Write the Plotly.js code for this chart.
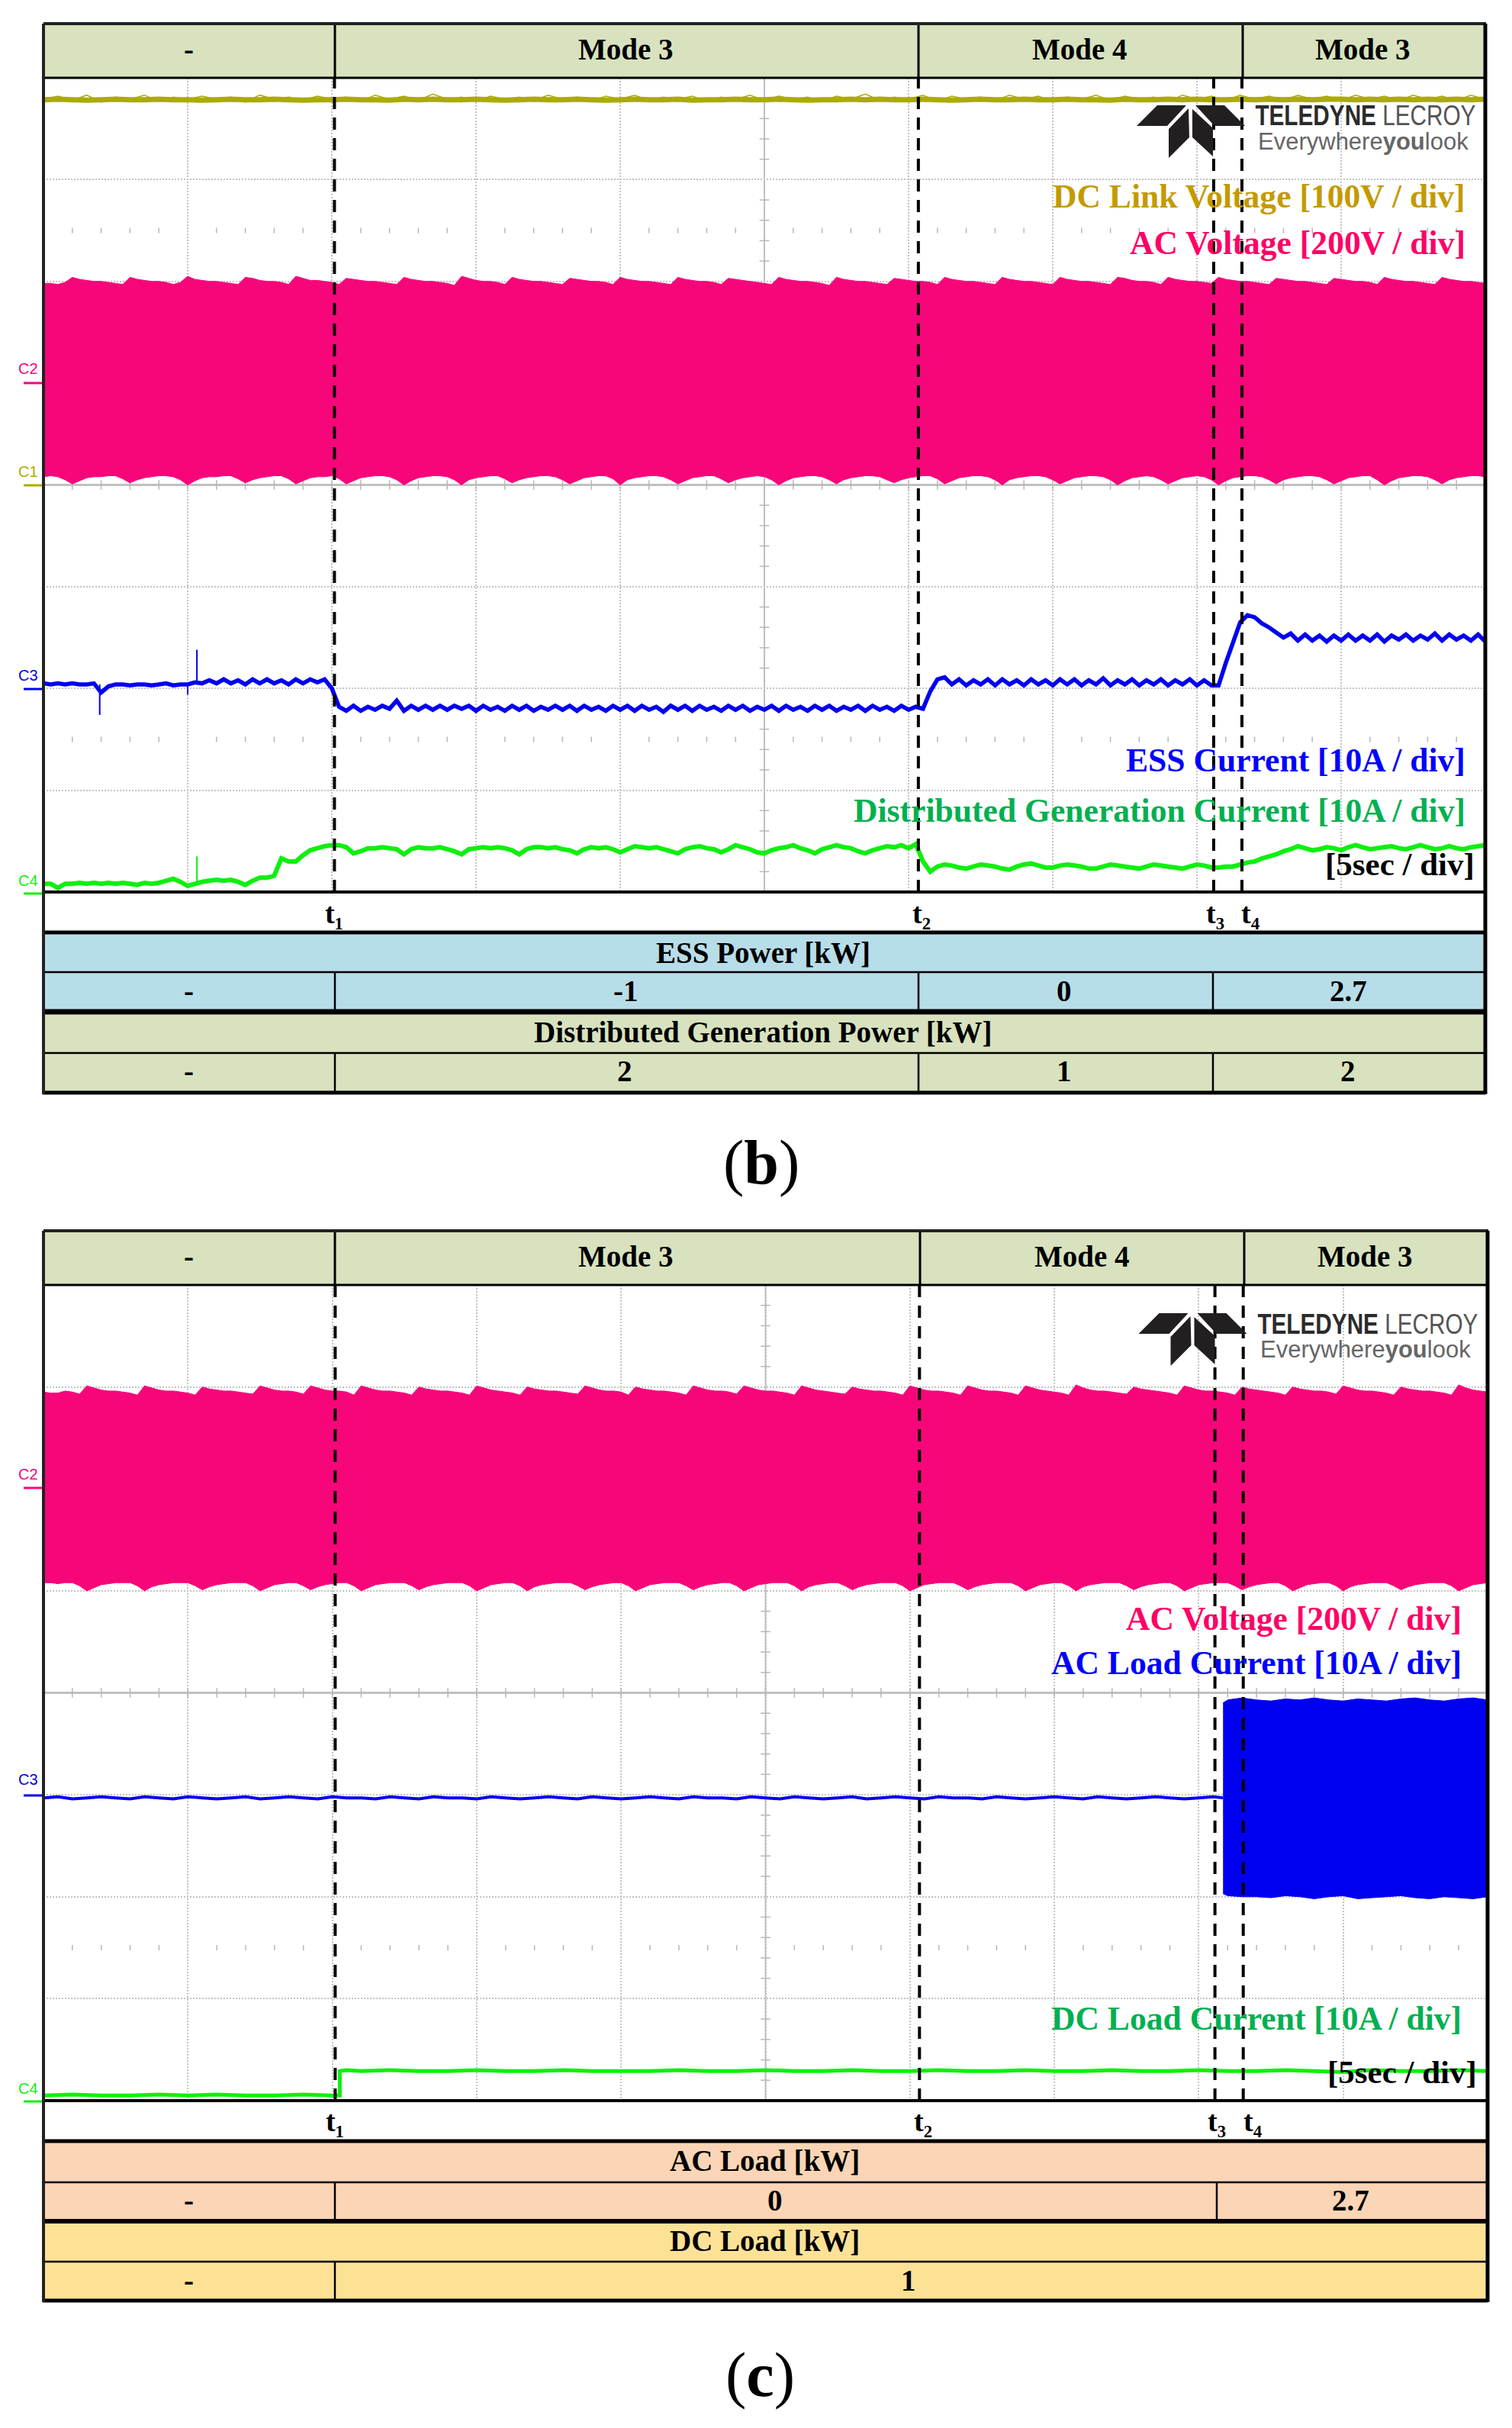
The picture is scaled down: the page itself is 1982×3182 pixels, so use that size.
<!DOCTYPE html>
<html>
<head>
<meta charset="utf-8">
<script src="https://cdn.plot.ly/plotly-3.0.1.min.js"></script>
<style>html,body{margin:0;padding:0;background:#fff}#chart{width:1982px;height:3182px}</style>
</head>
<body>
<div id="chart"></div>
<script>
// ---------- Data. Time in seconds (5 s/div), amplitude in screen divisions ----------
const envelopeTime = [0,0.5,1,1.5,2,2.5,3,3.5,4,4.5,5,5.5,6,6.5,7,7.5,8,8.5,9,9.5,10,10.5,11,11.5,12,12.5,13,13.5,14,14.5,15,15.5,16,16.5,17,17.5,18,18.5,19,19.5,20,20.5,21,21.5,22,22.5,23,23.5,24,24.5,25,25.5,26,26.5,27,27.5,28,28.5,29,29.5,30,30.5,31,31.5,32,32.5,33,33.5,34,34.5,35,35.5,36,36.5,37,37.5,38,38.5,39,39.5,40,40.5,41,41.5,42,42.5,43,43.5,44,44.5,45,45.5,46,46.5,47,47.5,48,48.5,49,49.5,50];
const sampleTime = [0,0.25,0.5,0.75,1,1.25,1.5,1.75,2,2.25,2.5,2.75,3,3.25,3.5,3.75,4,4.25,4.5,4.75,5,5.25,5.5,5.75,6,6.25,6.5,6.75,7,7.25,7.5,7.75,8,8.25,8.5,8.75,9,9.25,9.5,9.75,10,10.25,10.5,10.75,11,11.25,11.5,11.75,12,12.25,12.5,12.75,13,13.25,13.5,13.75,14,14.25,14.5,14.75,15,15.25,15.5,15.75,16,16.25,16.5,16.75,17,17.25,17.5,17.75,18,18.25,18.5,18.75,19,19.25,19.5,19.75,20,20.25,20.5,20.75,21,21.25,21.5,21.75,22,22.25,22.5,22.75,23,23.25,23.5,23.75,24,24.25,24.5,24.75,25,25.25,25.5,25.75,26,26.25,26.5,26.75,27,27.25,27.5,27.75,28,28.25,28.5,28.75,29,29.25,29.5,29.75,30,30.25,30.5,30.75,31,31.25,31.5,31.75,32,32.25,32.5,32.75,33,33.25,33.5,33.75,34,34.25,34.5,34.75,35,35.25,35.5,35.75,36,36.25,36.5,36.75,37,37.25,37.5,37.75,38,38.25,38.5,38.75,39,39.25,39.5,39.75,40,40.25,40.5,40.75,41,41.25,41.5,41.75,42,42.25,42.5,42.75,43,43.25,43.5,43.75,44,44.25,44.5,44.75,45,45.25,45.5,45.75,46,46.25,46.5,46.75,47,47.25,47.5,47.75,48,48.25,48.5,48.75,49,49.25,49.5,49.75,50];

const dcLinkVoltage = [7.785,7.79,7.785,7.78,7.785,7.79,7.785,7.785,7.79,7.785,7.785,7.78,7.785,7.79,7.785,7.785,7.79,7.785,7.78,7.785,7.785,7.79,7.785,7.785,7.78,7.79,7.785,7.79,7.785,7.785,7.79,7.785,7.78,7.785,7.79,7.785,7.785,7.79,7.785,7.78,7.785,7.79,7.785,7.785,7.79,7.78,7.785,7.785,7.79,7.785,7.785,7.79,7.785,7.78,7.785,7.785,7.79,7.785,7.79,7.785,7.785,7.79,7.785,7.78,7.785,7.79,7.785,7.785,7.79,7.785,7.785,7.79,7.785,7.785,7.78,7.79,7.785,7.785,7.79,7.785,7.79,7.785,7.785,7.79,7.785,7.79,7.785,7.79,7.785,7.79,7.79,7.785,7.79,7.785,7.79,7.785,7.79,7.785,7.79,7.785,7.79];
const dcLinkFuzz = [7.79,7.82,7.78,7.83,7.76,7.81,7.79,7.83,7.77,7.81,7.79,7.82,7.79,7.81,7.76,7.83,7.79,7.81,7.78,7.82,7.79,7.81,7.77,7.83,7.79,7.82,7.78,7.84,7.79,7.81,7.77,7.82,7.79,7.81,7.78,7.83,7.79,7.81,7.77,7.82,7.79,7.83,7.78,7.81,7.79,7.82,7.77,7.81,7.79,7.83,7.78,7.82,7.79,7.81,7.77,7.82,7.79,7.84,7.78,7.81,7.79,7.83,7.77,7.82,7.79,7.81,7.78,7.83,7.79,7.82,7.77,7.81,7.79,7.83,7.78,7.82,7.79,7.81,7.77,7.83,7.79,7.82,7.78,7.83,7.79,7.82,7.78,7.83,7.79,7.82,7.78,7.83,7.79,7.82,7.78,7.83,7.79,7.82,7.78,7.83,7.79];

const acVoltageUpperB = [5.98,5.98,5.97,5.99,6.04,6.02,6.01,6.00,6.00,5.99,5.98,5.97,6.04,6.02,6.01,6.00,6.00,5.99,5.97,5.99,
 6.05,6.02,6.01,6.00,6.00,5.99,5.98,5.97,6.04,6.03,6.01,6.00,6.00,5.99,5.97,6.05,6.03,6.01,6.01,6.00,
 5.99,5.97,6.03,6.02,6.01,6.00,6.00,5.99,5.98,5.97,6.04,6.02,6.01,6.00,6.00,5.99,5.98,5.96,6.05,6.03,
 6.01,6.00,6.00,5.99,5.97,6.04,6.02,6.01,6.00,6.00,5.99,5.98,5.97,6.03,6.02,6.01,6.00,6.00,5.99,5.97,
 6.04,6.02,6.01,6.00,6.00,5.99,5.98,5.97,6.04,6.02,6.01,6.00,6.00,5.99,5.97,6.03,6.02,6.01,6.00,5.99,
 5.98,5.97,6.04,6.02,6.01,6.00,6.00,5.99,5.98,5.96,6.04,6.02,6.01,6.00,6.00,5.99,5.98,5.97,6.03,6.02,
 6.01,6.00,6.00,5.99,5.97,6.04,6.02,6.01,6.00,6.00,5.99,5.98,5.97,6.04,6.02,6.01,6.00,6.00,5.99,5.98,
 5.97,6.04,6.02,6.01,6.00,6.00,5.99,5.98,5.97,6.04,6.03,6.01,6.00,6.00,5.99,5.97,6.04,6.02,6.01,6.00,
 6.00,5.99,5.98,6.04,6.02,6.01,6.00,6.00,5.99,5.98,5.97,6.03,6.02,6.01,6.00,6.00,5.99,5.98,5.97,6.03,
 6.02,6.01,6.00,6.00,5.99,5.97,6.04,6.02,6.01,6.00,6.00,5.99,5.98,5.97,6.04,6.02,6.01,6.00,6.00,5.99,5.98];
const acVoltageLowerB = [4.08,4.09,4.08,4.05,4.01,4.04,4.07,4.08,4.08,4.09,4.09,4.06,4.02,4.05,4.07,4.08,4.09,4.09,4.08,4.05,
 4.00,4.04,4.07,4.08,4.08,4.09,4.09,4.06,4.02,4.05,4.07,4.08,4.09,4.09,4.06,4.01,4.04,4.07,4.08,4.08,
 4.09,4.06,4.01,4.04,4.07,4.08,4.09,4.09,4.08,4.05,4.00,4.04,4.07,4.08,4.09,4.09,4.08,4.05,4.00,4.05,
 4.07,4.08,4.09,4.09,4.06,4.02,4.05,4.07,4.08,4.09,4.09,4.08,4.05,4.01,4.04,4.07,4.08,4.09,4.09,4.06,
 4.00,4.05,4.07,4.08,4.09,4.09,4.08,4.05,4.01,4.04,4.07,4.08,4.09,4.09,4.06,4.02,4.05,4.07,4.08,4.09,
 4.08,4.05,4.00,4.04,4.07,4.08,4.09,4.09,4.08,4.05,4.01,4.05,4.07,4.08,4.09,4.09,4.08,4.05,4.02,4.05,
 4.07,4.08,4.09,4.09,4.06,4.01,4.04,4.07,4.08,4.09,4.09,4.08,4.05,4.00,4.05,4.07,4.08,4.09,4.09,4.08,
 4.05,4.01,4.04,4.07,4.08,4.09,4.09,4.08,4.05,4.00,4.04,4.07,4.08,4.09,4.08,4.05,4.01,4.04,4.07,4.08,
 4.09,4.08,4.05,4.00,4.04,4.07,4.08,4.09,4.09,4.08,4.05,4.01,4.05,4.07,4.08,4.09,4.09,4.08,4.05,4.01,
 4.04,4.07,4.08,4.09,4.09,4.05,4.00,4.04,4.07,4.08,4.09,4.09,4.08,4.05,4.01,4.05,4.07,4.08,4.09,4.09,4.08];

const essCurrent = [2.05,2.04,2.05,2.04,2.05,2.04,2.04,2.05,1.96,2.02,2.04,2.04,2.03,2.04,2.04,2.03,2.04,2.05,2.03,2.04,
 2.04,2.06,2.05,2.08,2.05,2.09,2.05,2.08,2.04,2.09,2.05,2.09,2.05,2.08,2.04,2.09,2.05,2.09,2.06,2.09,
 2.00,1.82,1.78,1.83,1.78,1.82,1.79,1.83,1.80,1.88,1.78,1.83,1.79,1.83,1.79,1.83,1.79,1.83,1.80,1.83,
 1.78,1.83,1.79,1.82,1.78,1.83,1.79,1.83,1.78,1.82,1.79,1.83,1.79,1.83,1.78,1.83,1.79,1.82,1.78,1.83,
 1.79,1.83,1.78,1.83,1.79,1.82,1.77,1.83,1.79,1.83,1.78,1.83,1.79,1.82,1.78,1.83,1.79,1.83,1.78,1.82,
 1.79,1.83,1.78,1.83,1.79,1.82,1.78,1.83,1.79,1.83,1.78,1.82,1.79,1.83,1.78,1.83,1.79,1.82,1.78,1.83,
 1.79,1.82,1.80,1.97,2.09,2.11,2.04,2.09,2.03,2.08,2.04,2.09,2.03,2.09,2.04,2.08,2.03,2.09,2.04,2.08,
 2.03,2.09,2.04,2.09,2.03,2.08,2.04,2.10,2.03,2.08,2.04,2.09,2.03,2.08,2.04,2.09,2.03,2.08,2.04,2.09,
 2.03,2.08,2.03,2.03,2.25,2.45,2.65,2.72,2.70,2.64,2.60,2.55,2.50,2.54,2.47,2.53,2.47,2.52,2.46,2.52,
 2.47,2.53,2.47,2.52,2.47,2.53,2.46,2.52,2.48,2.53,2.47,2.52,2.48,2.54,2.47,2.53,2.48,2.52,2.47,2.53,2.46];
const essSpikeTime = [1.95,1.95,null,5.0,5.0,null,5.32,5.32];
const essSpikeValue = [2.04,1.74,null,2.03,1.94,null,2.04,2.38];

const dgCurrent = [0.08,0.08,0.04,0.08,0.08,0.09,0.08,0.09,0.08,0.09,0.08,0.09,0.08,0.07,0.09,0.08,0.09,0.11,0.13,0.10,
 0.06,0.08,0.10,0.11,0.12,0.11,0.12,0.10,0.07,0.11,0.14,0.14,0.16,0.33,0.30,0.30,0.36,0.41,0.43,0.45,
 0.46,0.46,0.44,0.38,0.40,0.43,0.43,0.44,0.43,0.42,0.37,0.42,0.44,0.43,0.43,0.44,0.42,0.40,0.37,0.42,
 0.43,0.44,0.43,0.44,0.43,0.41,0.37,0.42,0.44,0.44,0.43,0.44,0.42,0.41,0.38,0.42,0.44,0.43,0.44,0.42,
 0.39,0.42,0.45,0.44,0.43,0.44,0.42,0.40,0.38,0.42,0.44,0.45,0.43,0.42,0.39,0.42,0.46,0.44,0.42,0.39,
 0.38,0.41,0.43,0.44,0.46,0.43,0.41,0.38,0.42,0.44,0.46,0.44,0.43,0.40,0.38,0.41,0.43,0.45,0.44,0.46,
 0.43,0.47,0.30,0.20,0.25,0.27,0.26,0.24,0.23,0.25,0.27,0.26,0.25,0.23,0.22,0.25,0.27,0.28,0.26,0.24,
 0.24,0.26,0.27,0.26,0.25,0.23,0.23,0.25,0.27,0.26,0.25,0.24,0.23,0.25,0.27,0.26,0.25,0.24,0.23,0.25,
 0.27,0.26,0.24,0.24,0.25,0.25,0.27,0.29,0.30,0.33,0.35,0.37,0.40,0.42,0.45,0.43,0.41,0.42,0.44,0.43,
 0.41,0.44,0.46,0.44,0.42,0.43,0.44,0.45,0.43,0.42,0.44,0.46,0.44,0.42,0.43,0.45,0.43,0.42,0.44,0.45,0.46];
const dgSpikeTime = [5.32,5.32];
const dgSpikeValue = [0.09,0.35];

const acVoltageUpperC = [6.95,6.94,6.94,6.96,6.95,6.93,7.01,6.99,6.97,6.96,6.96,6.95,6.94,6.92,7.01,6.99,6.97,6.96,6.96,6.95,
 6.94,6.92,7.00,6.98,6.97,6.96,6.96,6.95,6.94,6.93,7.01,6.99,6.97,6.96,6.96,6.95,6.93,7.01,6.99,6.97,
 6.96,6.96,6.95,6.92,7.01,6.99,6.97,6.96,6.96,6.95,6.94,6.92,7.00,6.98,6.97,6.96,6.96,6.95,6.94,6.92,
 7.01,6.99,6.97,6.96,6.95,6.94,6.92,7.00,6.98,6.97,6.96,6.96,6.95,6.94,6.93,7.01,6.99,6.97,6.96,6.96,
 6.95,6.92,7.00,6.98,6.97,6.96,6.96,6.95,6.94,6.92,7.01,6.99,6.97,6.96,6.96,6.95,6.93,7.01,6.99,6.97,
 6.96,6.96,6.95,6.94,6.92,7.01,6.99,6.97,6.96,6.95,6.94,6.93,7.00,6.98,6.97,6.96,6.96,6.95,6.94,6.92,
 7.01,6.99,6.97,6.96,6.96,6.95,6.94,6.92,7.01,6.99,6.97,6.96,6.96,6.95,6.94,6.92,7.01,6.99,6.97,6.96,
 6.95,6.94,6.92,7.02,6.99,6.97,6.96,6.96,6.95,6.94,6.93,7.00,6.98,6.97,6.96,6.95,6.94,6.92,7.01,6.99,
 6.97,6.96,6.96,6.95,6.94,6.92,7.00,6.98,6.97,6.96,6.95,6.94,6.92,7.00,6.98,6.97,6.96,6.96,6.95,6.93,
 7.01,6.99,6.97,6.96,6.96,6.95,6.94,6.92,7.00,6.98,6.97,6.96,6.96,6.95,6.94,6.92,7.02,6.99,6.97,6.96,6.95];
const acVoltageLowerC = [5.08,5.08,5.07,5.08,5.08,5.05,5.00,5.03,5.06,5.07,5.08,5.08,5.08,5.05,5.00,5.04,5.06,5.07,5.08,5.08,
 5.08,5.05,5.01,5.04,5.06,5.07,5.08,5.08,5.08,5.05,5.00,5.03,5.06,5.07,5.08,5.08,5.05,5.01,5.04,5.06,
 5.07,5.08,5.08,5.05,5.00,5.03,5.06,5.07,5.08,5.08,5.08,5.05,5.01,5.04,5.06,5.07,5.08,5.08,5.08,5.05,
 5.00,5.03,5.06,5.07,5.08,5.08,5.05,5.00,5.04,5.06,5.07,5.08,5.08,5.08,5.05,5.01,5.04,5.06,5.07,5.08,
 5.08,5.05,5.00,5.03,5.06,5.07,5.08,5.08,5.08,5.05,5.01,5.04,5.06,5.07,5.08,5.08,5.05,5.00,5.03,5.06,
 5.07,5.08,5.08,5.08,5.05,5.00,5.04,5.06,5.07,5.08,5.08,5.05,5.01,5.04,5.06,5.07,5.08,5.08,5.08,5.05,
 5.00,5.03,5.06,5.07,5.08,5.08,5.08,5.05,5.01,5.04,5.06,5.07,5.08,5.08,5.08,5.05,5.00,5.03,5.06,5.07,
 5.08,5.08,5.05,5.00,5.04,5.06,5.07,5.08,5.08,5.08,5.05,5.01,5.04,5.06,5.07,5.08,5.08,5.05,5.00,5.03,
 5.06,5.07,5.08,5.08,5.08,5.05,5.01,5.04,5.06,5.07,5.08,5.08,5.05,5.00,5.03,5.06,5.07,5.08,5.08,5.05,
 5.00,5.04,5.06,5.07,5.08,5.08,5.08,5.05,5.01,5.04,5.06,5.07,5.08,5.08,5.08,5.05,5.00,5.03,5.06,5.07,5.08];

const acLoadIdleTime = [0,0.5,1,1.5,2,2.5,3,3.5,4,4.5,5,5.5,6,6.5,7,7.5,8,8.5,9,9.5,10,10.5,11,11.5,12,12.5,13,13.5,14,14.5,15,15.5,16,16.5,17,17.5,18,18.5,19,19.5,20,20.5,21,21.5,22,22.5,23,23.5,24,24.5,25,25.5,26,26.5,27,27.5,28,28.5,29,29.5,30,30.5,31,31.5,32,32.5,33,33.5,34,34.5,35,35.5,36,36.5,37,37.5,38,38.5,39,39.5,40,40.5,40.84];
const acLoadIdle = [2.97,2.98,2.96,2.97,2.98,2.97,2.96,2.98,2.97,2.96,2.98,2.97,2.96,2.97,2.98,2.96,2.97,2.98,2.97,2.96,2.98,2.97,2.97,2.96,2.98,2.97,2.96,2.98,2.97,2.97,2.96,2.98,2.97,2.96,2.97,2.98,2.97,2.96,2.98,2.97,2.96,2.97,2.98,2.97,2.96,2.98,2.97,2.97,2.96,2.98,2.97,2.96,2.98,2.97,2.96,2.97,2.98,2.96,2.97,2.98,2.97,2.96,2.98,2.97,2.97,2.96,2.98,2.97,2.96,2.97,2.98,2.97,2.96,2.98,2.97,2.96,2.97,2.98,2.97,2.96,2.97,2.98,2.97];
const acLoadOnTime = [40.84,41,41.5,42,42.5,43,43.5,44,44.5,45,45.5,46,46.5,47,47.5,48,48.5,49,49.5,50];
const acLoadUpper = [3.90,3.93,3.95,3.93,3.92,3.94,3.93,3.95,3.93,3.92,3.94,3.93,3.92,3.94,3.95,3.93,3.92,3.94,3.95,3.93];
const acLoadLower = [2.03,2.01,2.00,2.00,1.99,2.01,2.00,1.98,2.00,2.01,1.98,1.99,2.00,2.01,1.99,1.98,2.00,1.99,1.98,2.00];
const dcLoadTime = [0,1,2,3,4,5,6,7,8,9,10,10.26,10.26,10.5,11,12,13,14,15,16,17,18,19,20,21,22,23,24,25,26,27,28,29,30,31,32,33,34,35,36,37,38,39,40,41,42,43,44,45,46,47,48,49,50];
const dcLoad = [0.05,0.06,0.05,0.05,0.06,0.05,0.06,0.05,0.05,0.06,0.05,0.05,0.29,0.30,0.29,0.30,0.29,0.29,0.30,0.29,0.29,0.30,0.29,0.29,0.29,0.30,0.29,0.29,0.30,0.29,0.29,0.30,0.29,0.29,0.30,0.29,0.29,0.30,0.29,0.29,0.30,0.29,0.29,0.30,0.29,0.29,0.30,0.29,0.28,0.30,0.29,0.29,0.30,0.29];

const eventTimesB = [10.09,30.34,40.58,41.56];
const eventTimesC = [10.1,30.33,40.56,41.54];
const eventLabels = ['t₁','t₂','t₃','t₄'];
const modeLabels = ['-','Mode 3','Mode 4','Mode 3'];
const essPowerHead = 'ESS Power [kW]';
const essPowerCells = ['-','-1','0','2.7'];
const dgPowerHead = 'Distributed Generation Power [kW]';
const dgPowerCells = ['-','2','1','2'];
const acLoadHead = 'AC Load [kW]';
const acLoadCells = ['-','0','2.7'];
const dcLoadHead = 'DC Load [kW]';
const dcLoadCells = ['-','1'];

const tickSteps = [0,1,2,3,4,5,6,7,8,9,10,11,12,13,14,15,16,17,18,19,20,21,22,23,24,25,26,27,28,29,30,31,32,33,34,35,36,37,38,39,40,41,42,43,44,45,46,47,48,49,50];
const vTickSteps = [0.2,0.4,0.6,0.8,1.2,1.4,1.6,1.8,2.2,2.4,2.6,2.8,3.2,3.4,3.6,3.8,4.2,4.4,4.6,4.8,5.2,5.4,5.6,5.8,6.2,6.4,6.6,6.8,7.2,7.4,7.6,7.8];

// ---------- Colours / fonts ----------
const OLIVE='#ABAB00', PINK='#F7067A', BLUE='#0000F0', GREEN='#0FEF0F', GRID='#c4c4c4';
const SERIF='"Liberation Serif", serif', SANS='"Liberation Sans", Arial, sans-serif';
const W=1982, H=3182;
const px=x=>x/W, py=y=>1-y/H;

// ---------- Traces ----------
const line=(x,y,color,width,ax,extra)=>Object.assign({type:'scatter',mode:'lines',x,y,line:{color,width,simplify:false},xaxis:ax[0],yaxis:ax[1],hoverinfo:'skip',showlegend:false},extra||{});
const band=(x,lo,hi,color,ax)=>[
  line(x,lo,color,1,ax),
  line(x,hi,color,1,ax,{fill:'tonexty',fillcolor:color})
];
const ticks=(x,y,symbol,size,ax)=>({type:'scatter',mode:'markers',x,y,xaxis:ax[0],yaxis:ax[1],hoverinfo:'skip',showlegend:false,cliponaxis:true,
  marker:{symbol,size,color:'#b8b8b8',line:{color:'#b8b8b8',width:1.5}}});
const events=(times,ax)=>{
  const xs=[],ys=[];
  times.forEach(t=>{xs.push(t,t,null);ys.push(0,8,null);});
  return line(xs,ys,'#000',4,ax,{line:{color:'#000',width:4,dash:'16px,11px'}});
};
const repeat=(n,v)=>Array(n).fill(v);
const gridFurniture=(ax,dotRows)=>{
  const out=[];
  out.push(line([0,50],[4,4],'#c0c0c0',3,ax));
  out.push(line([25,25],[0,8],'#c0c0c0',2,ax));
  out.push(ticks(tickSteps,repeat(tickSteps.length,4),'line-ns',9,ax));
  out.push(ticks(repeat(vTickSteps.length,25),vTickSteps,'line-ew',9,ax));
  dotRows.forEach(r=>out.push(ticks(tickSteps.filter(t=>t%5!==0),repeat(40,r),'line-ns',5,ax)));
  return out;
};
const axB=['x','y'], axC=['x2','y2'];
const traces=[
  ...gridFurniture(axB,[6.5,1.5]),
  line(envelopeTime,dcLinkFuzz,OLIVE,1.5,axB),
  line(envelopeTime,dcLinkVoltage,OLIVE,7,axB),
  ...band(sampleTime,acVoltageLowerB,acVoltageUpperB,PINK,axB),
  line(sampleTime,essCurrent,BLUE,5.5,axB),
  line(essSpikeTime,essSpikeValue,BLUE,2,axB),
  line(sampleTime,dgCurrent,GREEN,6,axB),
  line(dgSpikeTime,dgSpikeValue,GREEN,2,axB),
  events(eventTimesB,axB),
  {type:'scatter',mode:'markers',x:[50.25],y:[1],xaxis:'x',yaxis:'y',cliponaxis:false,hoverinfo:'skip',showlegend:false,marker:{symbol:'triangle-left',size:11,color:'#C4B000'}},

  ...gridFurniture(axC,[1.5]),
  ...band(sampleTime,acVoltageLowerC,acVoltageUpperC,PINK,axC),
  line(acLoadIdleTime,acLoadIdle,BLUE,4,axC),
  ...band(acLoadOnTime,acLoadLower,acLoadUpper,BLUE,axC),
  line(dcLoadTime,dcLoad,GREEN,5,axC),
  events(eventTimesC,axC)
];

// ---------- Furniture in page coordinates ----------
const shapes=[], ann=[];
const rect=(x0,y0,x1,y1,fill)=>shapes.push({type:'rect',xref:'paper',yref:'paper',x0:px(x0),x1:px(x1),y0:py(y0),y1:py(y1),fillcolor:fill,line:{width:0}});
const seg=(x0,y0,x1,y1,color,width)=>shapes.push({type:'line',xref:'paper',yref:'paper',x0:px(x0),x1:px(x1),y0:py(y0),y1:py(y1),line:{color,width}});
const poly=(pts,fill)=>shapes.push({type:'path',xref:'paper',yref:'paper',path:'M'+pts.map(p=>px(p[0])+','+py(p[1])).join('L')+'Z',fillcolor:fill,line:{width:0}});
const note=(x,y,text,size,color,anchor,family,weight)=>ann.push({xref:'paper',yref:'paper',x:px(x),y:py(y),text,showarrow:false,xanchor:anchor||'center',yanchor:'middle',
  font:{family:family||SERIF,size,color,weight:weight||400},borderpad:0,borderwidth:0});
const bold=s=>'<b>'+s+'</b>';

function logo(dx,dy){
  poly([[1490,165],[1517,138],[1555,138],[1530,165]].map(p=>[p[0]+dx,p[1]+dy]),'#231F20');
  poly([[1532,169],[1558,142],[1559,180],[1532,207]].map(p=>[p[0]+dx,p[1]+dy]),'#231F20');
  poly([[1563,143],[1590,168],[1590,205],[1563,180]].map(p=>[p[0]+dx,p[1]+dy]),'#231F20');
  poly([[1567,138],[1605,138],[1632,165],[1592,165]].map(p=>[p[0]+dx,p[1]+dy]),'#231F20');
  note(1790+dx,152+dy,'<b>TELEDYNE</b> <span style="color:#555">LECROY</span>',37,'#2b2b2b','center',SANS);
  note(1649+dx,186+dy,'Everywhere<b>you</b>look',31,'#666','left',SANS);
}

function chLabel(yText,yTick,name,color){
  note(37,yText,name,20,color,'center',SANS);
  seg(31,yTick,55,yTick,color,3);
}

// Panel (b)
const HB='#D8E2BE', BLU='#B7DDE8';
rect(57,33,1946,102,HB);
[439,1204,1629].forEach(x=>seg(x,33,x,102,'#000',3));
seg(56,102,1947,102,'#000',3);
[[247,modeLabels[0]],[820,modeLabels[1]],[1415,modeLabels[2]],[1786,modeLabels[3]]].forEach(c=>note(c[0],65,bold(c[1]),39,'#000'));
seg(56,1169,1947,1169,'#000',4);
[[438,1197],[1208,1197],[1593,1197],[1639,1197]].forEach((c,i)=>note(c[0],c[1],bold(eventLabels[i]),38,'#000'));
rect(57,1224,1946,1323,BLU);
rect(57,1329,1946,1430,HB);
seg(56,1222,1947,1222,'#000',5);
seg(56,1274,1947,1274,'#000',2.5);
seg(56,1326,1947,1326,'#000',7);
seg(56,1380,1947,1380,'#000',2.5);
seg(56,1432,1947,1432,'#000',5);
[439,1204,1590].forEach(x=>{seg(x,1274,x,1323,'#000',2.5);seg(x,1380,x,1430,'#000',2.5);});
note(1000,1248,bold(essPowerHead),39,'#000');
[247,820,1395,1767].forEach((x,i)=>note(x,1299,bold(essPowerCells[i]),39,'#000'));
note(1000,1352,bold(dgPowerHead),39,'#000');
[247,819,1395,1767].forEach((x,i)=>note(x,1403,bold(dgPowerCells[i]),39,'#000'));
seg(57,31,1948,31,'#222',4);
seg(57,31,57,1434,'#222',4);
seg(1947,31,1947,1434,'#000',5);
note(998,1523,'(<b>b</b>)',82,'#000');
logo(0,0);
note(1921,257,bold('DC Link Voltage [100V / div]'),43.6,'#C49A00','right');
note(1921,318,bold('AC Voltage [200V / div]'),43.6,'#FF0066','right');
note(1921,996,bold('ESS Current [10A / div]'),43.6,'#0000FF','right');
note(1921,1062,bold('Distributed Generation Current [10A / div]'),43.6,'#00B050','right');
note(1933,1132,bold('[5sec / div]'),43,'#000','right');
chLabel(483,502,'C2',PINK);
chLabel(618,636,'C1',OLIVE);
chLabel(885,903,'C3',BLUE);
chLabel(1154,1171,'C4',GREEN);

// Panel (c)
const PEACH='#FBD5B5', YEL='#FDE296';
rect(57,1615,1950,1684,HB);
[439,1206,1631].forEach(x=>seg(x,1615,x,1684,'#000',3));
seg(56,1684,1950,1684,'#000',3);
[[247,modeLabels[0]],[820,modeLabels[1]],[1418,modeLabels[2]],[1789,modeLabels[3]]].forEach(c=>note(c[0],1647,bold(c[1]),39,'#000'));
seg(56,2753,1950,2753,'#000',4);
[[439,2780],[1210,2780],[1595,2780],[1642,2780]].forEach((c,i)=>note(c[0],c[1],bold(eventLabels[i]),38,'#000'));
rect(57,2808,1950,2908,PEACH);
rect(57,2914,1950,3014,YEL);
seg(56,2806,1950,2806,'#000',5);
seg(56,2860,1950,2860,'#000',2.5);
seg(56,2911,1950,2911,'#000',6);
seg(56,2964,1950,2964,'#000',2.5);
seg(56,3015,1950,3015,'#000',5);
[439,1595].forEach(x=>seg(x,2860,x,2908,'#000',2.5));
seg(439,2964,439,3014,'#000',2.5);
note(1002,2831,bold(acLoadHead),39,'#000');
[247,1016,1770].forEach((x,i)=>note(x,2883,bold(acLoadCells[i]),39,'#000'));
note(1002,2936,bold(dcLoadHead),39,'#000');
[247,1191].forEach((x,i)=>note(x,2988,bold(dcLoadCells[i]),39,'#000'));
seg(57,1613,1951,1613,'#222',4);
seg(57,1613,57,3017,'#222',4);
seg(1950,1613,1950,3017,'#000',5);
note(997,3112,'(<b>c</b>)',82,'#000');
logo(2.5,1583);
note(1916,2121,bold('AC Voltage [200V / div]'),43.6,'#FF0066','right');
note(1916,2179,bold('AC Load Current [10A / div]'),43.6,'#0000FF','right');
note(1916,2645,bold('DC Load Current [10A / div]'),43.6,'#00B050','right');
note(1936,2715,bold('[5sec / div]'),43,'#000','right');
chLabel(1932,1950,'C2',PINK);
chLabel(2332,2353,'C3',BLUE);
chLabel(2737,2754,'C4',GREEN);

// ---------- Layout ----------
const xAxis=(x0,x1,anchor)=>({domain:[px(x0),px(x1)],range:[0,50],dtick:5,tick0:0,showgrid:true,gridcolor:GRID,gridwidth:2,griddash:'2px,2px',zeroline:false,showticklabels:false,ticks:'',showline:false,anchor,fixedrange:true});
const yAxis=(y0,y1,anchor)=>({domain:[py(y1),py(y0)],range:[0,8],dtick:1,tick0:0,showgrid:true,gridcolor:GRID,gridwidth:2,griddash:'2px,2px',zeroline:false,showticklabels:false,ticks:'',showline:false,anchor,fixedrange:true});
const layout={
  width:W,height:H,margin:{l:0,r:0,t:0,b:0,pad:0},paper_bgcolor:'#fff',plot_bgcolor:'#fff',showlegend:false,hovermode:false,
  xaxis:xAxis(57,1947,'y'),yaxis:yAxis(102,1169,'x'),
  xaxis2:xAxis(57,1950,'y2'),yaxis2:yAxis(1684,2753,'x2'),
  shapes,annotations:ann
};
Plotly.newPlot('chart',traces,layout,{staticPlot:true,displayModeBar:false}).then(()=>{
  // The logo lettering is condensed: squeeze it to its width in the picture.
  document.querySelectorAll('.annotation-text').forEach(t=>{
    if(t.textContent==='TELEDYNE LECROY'){t.setAttribute('textLength',289);t.setAttribute('lengthAdjust','spacingAndGlyphs');}
  });
});
</script>
</body>
</html>
